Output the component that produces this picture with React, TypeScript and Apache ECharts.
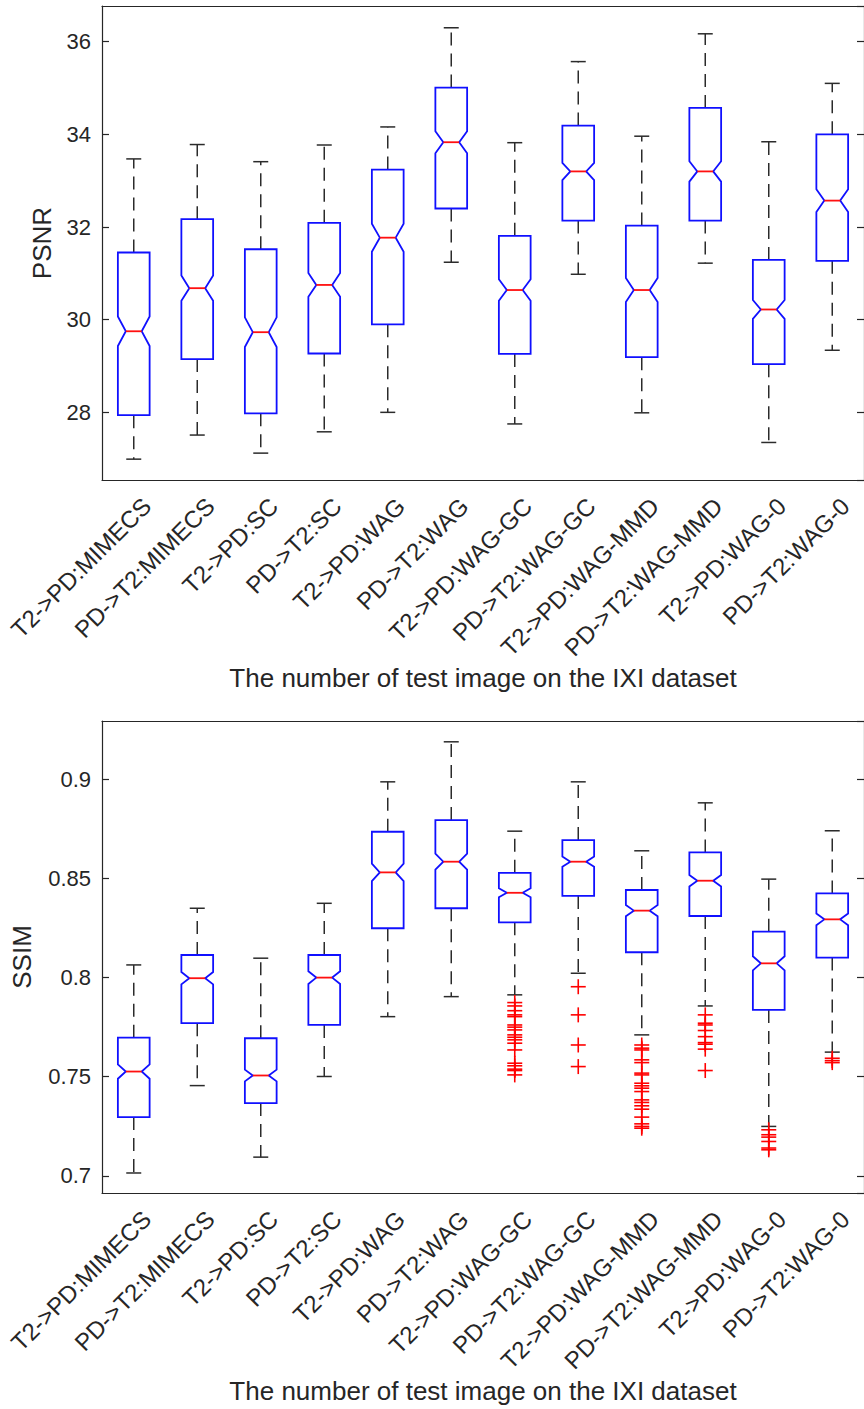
import React, { useEffect, useRef } from "react";
import * as echarts from "echarts";

const categories = [
  "T2->PD:MIMECS", "PD->T2:MIMECS", "T2->PD:SC", "PD->T2:SC", "T2->PD:WAG", "PD->T2:WAG",
  "T2->PD:WAG-GC", "PD->T2:WAG-GC", "T2->PD:WAG-MMD", "PD->T2:WAG-MMD", "T2->PD:WAG-0", "PD->T2:WAG-0",
];

// PSNR box statistics
const psnrLower = [26.99, 27.51, 27.12, 27.58, 28.0, 31.24, 27.75, 30.98, 27.99, 31.22, 27.35, 29.34];
const psnrQ1 = [27.94, 29.15, 27.98, 29.27, 29.9, 32.4, 29.26, 32.14, 29.19, 32.14, 29.04, 31.27];
const psnrMedian = [29.75, 30.68, 29.73, 30.75, 31.77, 33.83, 30.64, 33.2, 30.64, 33.2, 30.22, 32.57];
const psnrQ3 = [31.45, 32.17, 31.52, 32.09, 33.24, 35.01, 31.81, 34.19, 32.03, 34.57, 31.29, 34.0];
const psnrUpper = [33.47, 33.78, 33.41, 33.77, 34.16, 36.3, 33.82, 35.57, 33.96, 36.17, 33.84, 35.1];

// SSIM box statistics
const ssimLower = [0.7014, 0.7455, 0.7094, 0.7501, 0.7803, 0.7904, 0.7913, 0.8022, 0.7711, 0.7857, 0.7249, 0.7624];
const ssimQ1 = [0.7296, 0.777, 0.7367, 0.7761, 0.8249, 0.835, 0.8279, 0.8412, 0.8128, 0.8311, 0.7837, 0.8101];
const ssimMedian = [0.7526, 0.7997, 0.7506, 0.8, 0.8531, 0.8585, 0.8428, 0.8585, 0.8338, 0.8489, 0.8072, 0.8294];
const ssimQ3 = [0.7697, 0.8114, 0.7694, 0.8114, 0.8736, 0.8795, 0.8529, 0.8694, 0.8442, 0.8632, 0.8232, 0.8425];
const ssimUpper = [0.8064, 0.835, 0.8098, 0.8375, 0.8988, 0.919, 0.8739, 0.8988, 0.864, 0.8882, 0.8497, 0.8741];

// SSIM outliers (by category index)
const ssimOutliers: number[][] = [
  [], [], [], [], [], [],
  [0.7874, 0.7857, 0.7833, 0.7812, 0.7803, 0.7761, 0.775, 0.7736, 0.7711, 0.7699, 0.7686, 0.7669, 0.7635, 0.7568, 0.7555, 0.7538, 0.7531, 0.7509],
  [0.7954, 0.7812, 0.766, 0.7551],
  [0.766, 0.7644, 0.7635, 0.7585, 0.7571, 0.7518, 0.7509, 0.7467, 0.7454, 0.7442, 0.7425, 0.7383, 0.737, 0.7353, 0.7336, 0.7296, 0.7262, 0.7249, 0.724],
  [0.7812, 0.777, 0.7761, 0.7733, 0.7702, 0.7672, 0.7664, 0.7639, 0.7531],
  [0.7232, 0.7207, 0.7195, 0.7173, 0.714, 0.7131],
  [0.7593, 0.7581, 0.7571],
];

const psnrRange = [26.54, 36.77];
const ssimRange = [0.6913, 0.9295];
const sampleSize = 300;
const xTitle = "The number of test image on the IXI dataset";

const FONT = "'Liberation Sans', Arial, Helvetica, sans-serif";
const AX = "#262626";

function boxRender(params: any, api: any) {
  const i = api.value(0);
  const lo = api.value(1), q1 = api.value(2), med = api.value(3), q3 = api.value(4), hi = api.value(5);
  const bw = api.size([1, 0])[0];
  const hw = bw * 0.25;
  const xc = api.coord([i, med])[0];
  const y = (v: number) => api.coord([i, v])[1];
  const notch = (1.57 * (q3 - q1)) / Math.sqrt(sampleSize);
  const xl = xc - hw, xr = xc + hw, nw = hw / 2;
  const capW = 7.5;
  const dash = { stroke: "#2b2b2b", lineWidth: 1.5, lineDash: [13, 8] };
  const solid = { stroke: "#2b2b2b", lineWidth: 1.5 };
  return {
    type: "group",
    children: [
      { type: "line", shape: { x1: xc, y1: y(q3), x2: xc, y2: y(hi) }, style: dash },
      { type: "line", shape: { x1: xc, y1: y(q1), x2: xc, y2: y(lo) }, style: dash },
      { type: "line", shape: { x1: xc - capW, y1: y(hi), x2: xc + capW, y2: y(hi) }, style: solid },
      { type: "line", shape: { x1: xc - capW, y1: y(lo), x2: xc + capW, y2: y(lo) }, style: solid },
      {
        type: "polygon",
        shape: {
          points: [
            [xl, y(q1)], [xl, y(med - notch)], [xc - nw, y(med)], [xl, y(med + notch)], [xl, y(q3)],
            [xr, y(q3)], [xr, y(med + notch)], [xc + nw, y(med)], [xr, y(med - notch)], [xr, y(q1)],
          ],
        },
        style: { fill: "none", stroke: "#1010ff", lineWidth: 1.8 },
      },
      { type: "line", shape: { x1: xc - nw, y1: y(med), x2: xc + nw, y2: y(med) }, style: { stroke: "#ff1010", lineWidth: 1.8 } },
    ],
  };
}

function plusRender(params: any, api: any) {
  const p = api.coord([api.value(0), api.value(1)]);
  const s = 7.5;
  const st = { stroke: "#ff0000", lineWidth: 1.6 };
  return {
    type: "group",
    children: [
      { type: "line", shape: { x1: p[0] - s, y1: p[1], x2: p[0] + s, y2: p[1] }, style: st },
      { type: "line", shape: { x1: p[0], y1: p[1] - s, x2: p[0], y2: p[1] + s }, style: st },
    ],
  };
}

function labelRender(params: any, api: any) {
  const p = api.coord([api.value(0), api.value(1)]);
  return {
    type: "text",
    x: p[0] + 13,
    y: p[1] + 22,
    rotation: Math.PI / 4,
    style: {
      text: categories[params.dataIndex],
      align: "right",
      verticalAlign: "middle",
      fontSize: 24,
      fontFamily: FONT,
      fill: AX,
    },
  };
}

function makeAxes(grid: number, range: number[], name: string, nameGap: number) {
  const lineStyle = { color: AX, width: 1.2 };
  const xs = [
    {
      type: "category", gridIndex: grid, data: categories, position: "bottom", boundaryGap: true,
      axisLine: { show: true, lineStyle }, axisTick: { inside: true, length: 7, alignWithLabel: true, lineStyle },
      axisLabel: { show: false }, splitLine: { show: false },
      name: xTitle, nameLocation: "middle", nameGap: 185,
      nameTextStyle: { fontSize: 26, fontFamily: FONT, color: AX },
    },
    {
      type: "category", gridIndex: grid, data: categories, position: "top", boundaryGap: true,
      axisLine: { show: true, lineStyle }, axisTick: { inside: true, length: 7, alignWithLabel: true, lineStyle },
      axisLabel: { show: false }, splitLine: { show: false },
    },
  ];
  const ys = [
    {
      type: "value", gridIndex: grid, min: range[0], max: range[1], splitNumber: 5, position: "left",
      axisLine: { show: true, lineStyle }, axisTick: { show: true, inside: true, length: 7, lineStyle },
      axisLabel: { fontSize: 22, fontFamily: FONT, color: AX, margin: 11, showMinLabel: false, showMaxLabel: false },
      splitLine: { show: false },
      name, nameLocation: "middle", nameGap, nameTextStyle: { fontSize: 26, fontFamily: FONT, color: AX },
    },
    {
      type: "value", gridIndex: grid, min: range[0], max: range[1], splitNumber: 5, position: "right",
      axisLine: { show: true, lineStyle }, axisTick: { show: true, inside: true, length: 7, lineStyle },
      axisLabel: { show: false }, splitLine: { show: false },
    },
  ];
  return { xs, ys };
}

export default function App() {
  const ref = useRef<HTMLDivElement>(null);
  useEffect(() => {
    if (!ref.current) return;
    const chart = echarts.init(ref.current, null, { renderer: "svg" });
    const a0 = makeAxes(0, psnrRange, "PSNR", 47);
    const a1 = makeAxes(1, ssimRange, "SSIM", 67);
    const psnrData = categories.map((_, i) => [i, psnrLower[i], psnrQ1[i], psnrMedian[i], psnrQ3[i], psnrUpper[i]]);
    const ssimData = categories.map((_, i) => [i, ssimLower[i], ssimQ1[i], ssimMedian[i], ssimQ3[i], ssimUpper[i]]);
    const outData: number[][] = [];
    ssimOutliers.forEach((arr, i) => arr.forEach((v) => outData.push([i, v])));
    chart.setOption({
      animation: false,
      backgroundColor: "#ffffff",
      grid: [
        { left: 102, top: 6, width: 768, height: 474 },
        { left: 102, top: 721, width: 768, height: 472 },
      ],
      xAxis: [...a0.xs, ...a1.xs],
      yAxis: [...a0.ys, ...a1.ys],
      series: [
        { type: "custom", xAxisIndex: 0, yAxisIndex: 0, data: psnrData, renderItem: boxRender, silent: true },
        { type: "custom", xAxisIndex: 2, yAxisIndex: 2, data: ssimData, renderItem: boxRender, silent: true },
        { type: "custom", xAxisIndex: 2, yAxisIndex: 2, data: outData, renderItem: plusRender, silent: true },
        {
          type: "custom", xAxisIndex: 0, yAxisIndex: 0, clip: false, silent: true,
          data: categories.map((_, i) => [i, psnrRange[0]]), renderItem: labelRender,
        },
        {
          type: "custom", xAxisIndex: 2, yAxisIndex: 2, clip: false, silent: true,
          data: categories.map((_, i) => [i, ssimRange[0]]), renderItem: labelRender,
        },
      ],
    });
    return () => chart.dispose();
  }, []);
  return <div ref={ref} style={{ position: "absolute", left: 0, top: 0, width: 864, height: 1409 }} />;
}
